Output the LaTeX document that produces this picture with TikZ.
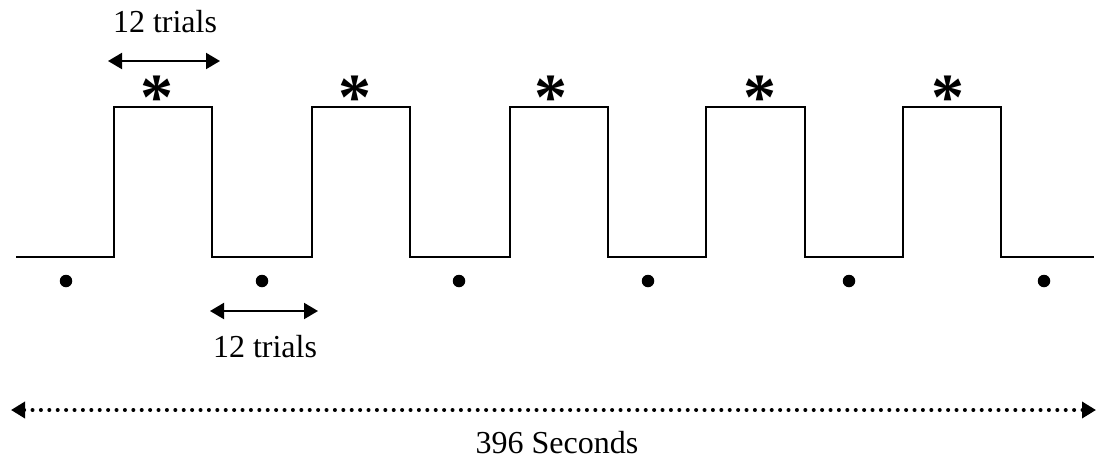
\documentclass[tikz,border=0pt]{standalone}
\usepackage{fontspec}
\setmainfont{Liberation Serif}
\usetikzlibrary{arrows.meta}
\begin{document}
\begin{tikzpicture}[x=1pt,y=-1pt,
  wave/.style={line width=2.8pt, line join=miter},
  dim/.style={line width=2pt, {Triangle[length=14pt,width=16pt]}-{Triangle[length=14pt,width=16pt]}},
  dotline/.style={line width=4pt, line cap=round, dash pattern=on 0pt off 8.4pt, {Triangle[length=14pt,width=16pt]}-{Triangle[length=14pt,width=16pt]}},
  lbl/.style={font=\fontsize{32}{34}\selectfont, inner sep=0pt},
  star/.style={font=\bfseries\fontsize{66}{66}\selectfont, inner sep=0pt},
  dotmark/.style={circle, fill=black, inner sep=0pt, minimum size=12.5pt}]
\useasboundingbox (0,0) rectangle (1096,459);
\draw[wave] (16,257) -- (114,257) -- (114,107) -- (212,107) -- (212,257)
  -- (312,257) -- (312,107) -- (410,107) -- (410,257)
  -- (510,257) -- (510,107) -- (608,107) -- (608,257)
  -- (706,257) -- (706,107) -- (805,107) -- (805,257)
  -- (903,257) -- (903,107) -- (1001,107) -- (1001,257) -- (1094,257);
\foreach \x/\n in {157/1,355/2,551/3,760/4,948/5}
  \node[star] (s\n) at (\x,98) {*};
\foreach \x/\n in {66/1,262/2,459/3,648/4,849/5,1044/6}
  \node[dotmark] (d\n) at (\x,281) {};
\coordinate (ta) at (108,61);
\coordinate (tb) at (220,61);
\draw[dim] (ta) -- (tb);
\node[lbl] (tl) at (165,22) {12 trials};
\coordinate (ba) at (210,311);
\coordinate (bb) at (318,311);
\draw[dim] (ba) -- (bb);
\node[lbl] (bl) at (265,347) {12 trials};
\coordinate (la) at (11,410);
\coordinate (lb) at (1096,410);
\draw[dotline] (la) -- (lb);
\node[lbl] (sl) at (557,443) {396 Seconds};
\end{tikzpicture}
\end{document}
